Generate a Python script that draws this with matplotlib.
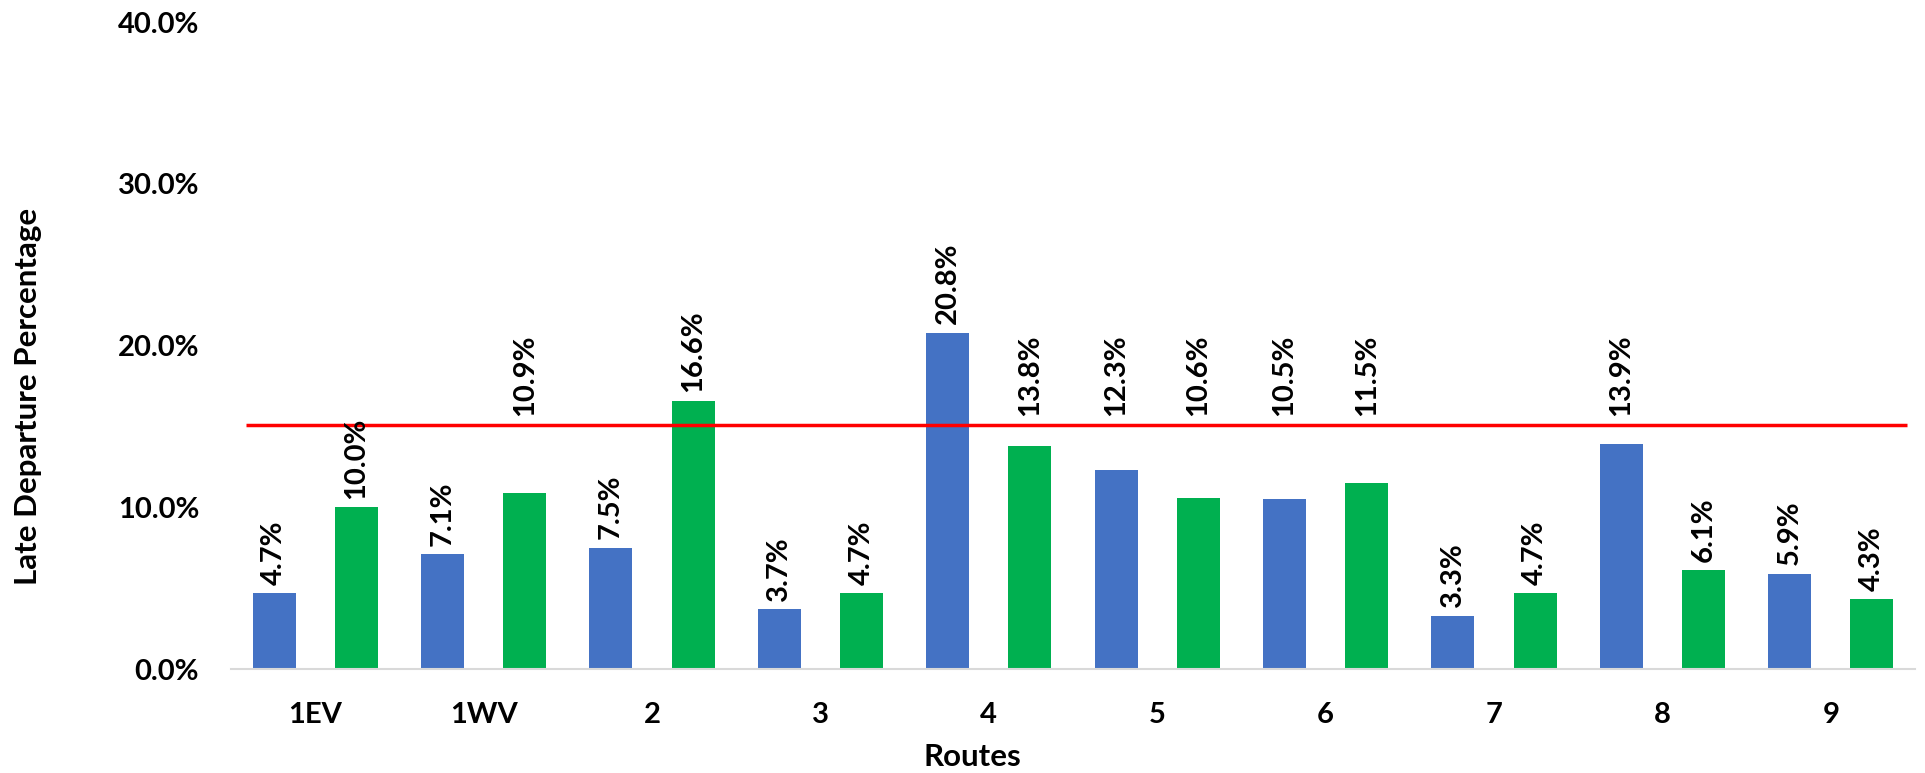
import matplotlib.pyplot as plt
import numpy as np

# data (percent)
routes = ['1EV', '1WV', '2', '3', '4', '5', '6', '7', '8', '9']
series_a = [4.7, 7.1, 7.5, 3.7, 20.8, 12.3, 10.5, 3.3, 13.9, 5.9]
series_b = [10.0, 10.9, 16.6, 4.7, 13.8, 10.6, 11.5, 4.7, 6.1, 4.3]
target = 15.1
yticks = [0, 10, 20, 30, 40]

plt.rcParams['font.family'] = ['Lato', 'DejaVu Sans']

fig = plt.figure(figsize=(19.25, 7.73), dpi=100)
ax = fig.add_axes([0.12, 0.1345, 0.8748, 0.837])

x = np.arange(len(routes))
w = 0.256
bars_a = ax.bar(x - 0.244, series_a, w, color='#4472C4')
bars_b = ax.bar(x + 0.244, series_b, w, color='#00B050')

# target line, slightly inset from the axis ends like in the original
ax.hlines(target, -0.41, 9.45, color='#FF0000', lw=2.5, zorder=3)

# data labels; the ones sitting just under the target line were moved above it
for bars, vals in [(bars_a, series_a), (bars_b, series_b)]:
    for b, v in zip(bars, vals):
        y = target if 10.2 < v < target else v
        ax.annotate(f'{v:.1f}%', (b.get_x() + b.get_width() / 2, y),
                    xytext=(0, 6), textcoords='offset points',
                    rotation=90, ha='center', va='bottom',
                    fontsize=21, fontweight='bold')

ax.set_xlim(-0.5, 9.5)
ax.set_ylim(0, 40)
ax.set_yticks(yticks)
ax.set_yticklabels([f'{t:.1f}%' for t in yticks], fontsize=21, fontweight='bold')
ax.set_xticks(x)
ax.set_xticklabels(routes, fontsize=21, fontweight='bold')
ax.tick_params(axis='both', length=0)
ax.tick_params(axis='y', pad=23)
ax.tick_params(axis='x', pad=24)

for s in ['top', 'right', 'left']:
    ax.spines[s].set_visible(False)
ax.spines['bottom'].set_color('#D9D9D9')
ax.spines['bottom'].set_linewidth(1.5)

ax.set_xlabel('Routes', fontsize=22.5, fontweight='bold', va='center')
ax.xaxis.set_label_coords(0.44, -0.136)
ax.set_ylabel('Late Departure Percentage', fontsize=22.5, fontweight='bold', va='center')
ax.yaxis.set_label_coords(-0.1205, 0.422)

fig.savefig('out.png', dpi=100)
